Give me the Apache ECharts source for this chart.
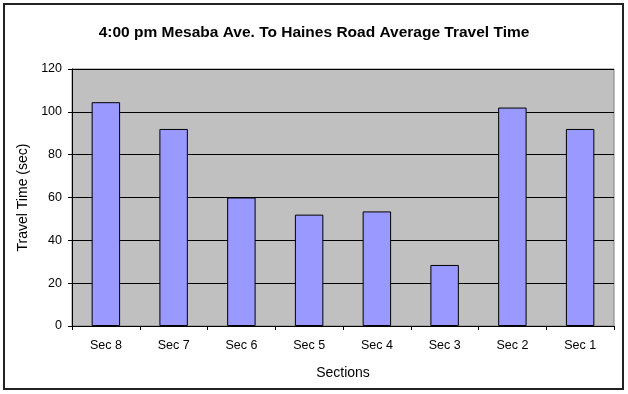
<!DOCTYPE html>
<html><head><meta charset="utf-8">
<script src="https://cdn.jsdelivr.net/npm/echarts@6/dist/echarts.min.js"></script>
<style>html,body{margin:0;padding:0;background:#fff}#c{width:628px;height:394px}</style>
</head><body><div id="c"></div>
<script>
const categories = ["Sec 8","Sec 7","Sec 6","Sec 5","Sec 4","Sec 3","Sec 2","Sec 1"];
const travelTime = [104.5, 92, 60, 52, 53.5, 28.5, 102, 92];
const yTicks = [0,20,40,60,80,100,120];

const chart = echarts.init(document.getElementById('c'), null, {renderer:'canvas'});
chart.setOption({
  animation:false,
  backgroundColor:'#fff',
  graphic:[{type:'rect',shape:{x:4,y:4,width:619,height:385},style:{fill:'none',stroke:'#222',lineWidth:2},silent:true}],
  title:{text:'4:00 pm Mesaba Ave. To Haines Road Average Travel Time',left:'center',top:20,
    textStyle:{fontFamily:'Liberation Sans',fontSize:15.5,fontWeight:'bold',color:'#000'}},
  grid:{left:72,right:14,top:69,bottom:68,show:true,backgroundColor:'#C0C0C0',borderColor:'#808080',borderWidth:1},
  xAxis:{type:'category',data:categories,
    name:'Sections',nameLocation:'middle',nameGap:40,
    nameTextStyle:{fontFamily:'Liberation Sans',fontSize:14,color:'#000'},
    axisLine:{lineStyle:{color:'#000',width:1}},
    axisTick:{show:true,length:4,lineStyle:{color:'#000'}},
    axisLabel:{fontFamily:'Liberation Sans',fontSize:12.5,color:'#000',margin:13}},
  yAxis:{type:'value',min:yTicks[0],max:yTicks[yTicks.length-1],interval:20,
    name:'Travel Time (sec)',nameLocation:'middle',nameGap:37,
    nameTextStyle:{fontFamily:'Liberation Sans',fontSize:14,color:'#000'},
    axisLine:{show:true,lineStyle:{color:'#000',width:1}},
    axisTick:{show:true,length:4,lineStyle:{color:'#000'}},
    splitLine:{show:true,lineStyle:{color:'#000',width:1}},
    axisLabel:{fontFamily:'Liberation Sans',fontSize:12.5,color:'#000',margin:10}},
  series:[{type:'bar',data:travelTime,barWidth:'42%',
    itemStyle:{color:'#9999FF',borderColor:'#000',borderWidth:1}}]
});
</script></body></html>
